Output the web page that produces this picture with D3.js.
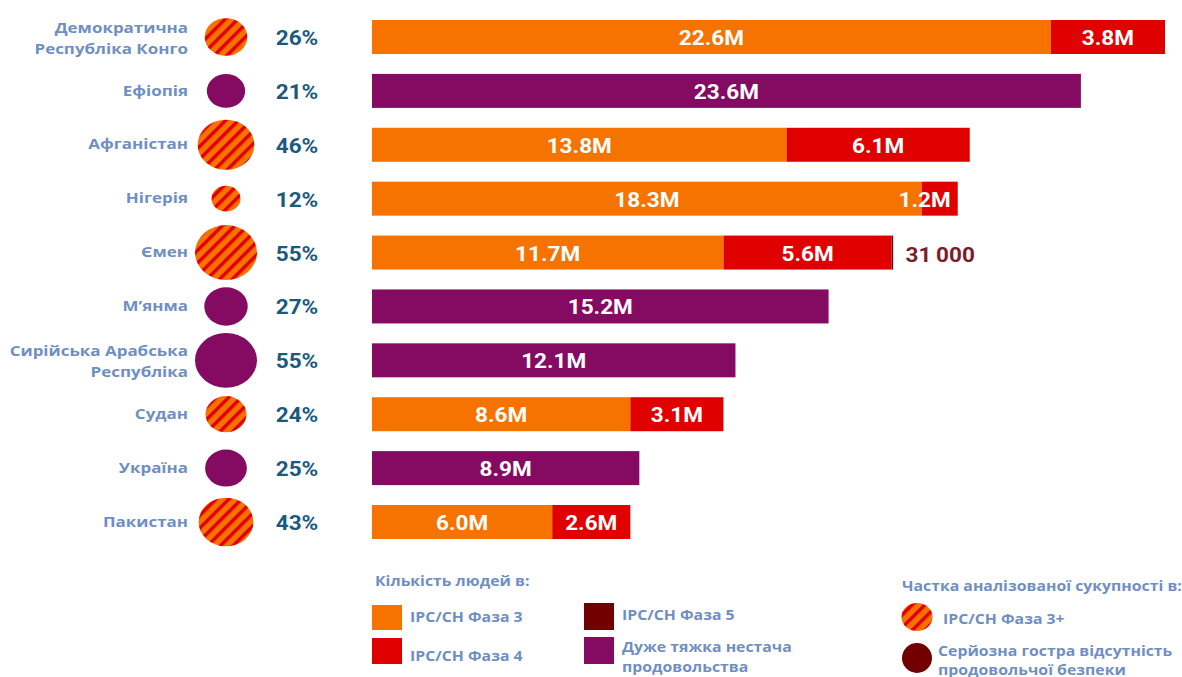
<!DOCTYPE html>
<html>
<head>
<meta charset="utf-8">
<script src="https://cdn.jsdelivr.net/npm/d3@7"></script>
<style>
  body { margin: 0; background: #fff; }
  svg text { font-weight: bold; }
</style>
</head>
<body>
<div id="chart"></div>
<script>
// food crisis chart: bars per country + share bubbles

var width = 1182,
    height = 677;

var countries = ["Демократична\nРеспубліка Конго", "Ефіопія", "Афганістан", "Нігерія", "Ємен",
                 "М\u2019янма", "Сирійська Арабська\nРеспубліка", "Судан", "Україна", "Пакистан"];
var shares = [26, 21, 46, 12, 55, 27, 55, 24, 25, 43];      // % of analysed population
var ipcCountry = [true, false, true, true, true, false, false, true, false, true];
var phase3 = [22.6, 0, 13.8, 18.3, 11.7, 0, 0, 8.6, 0, 6.0];  // millions
var phase4 = [3.8, 0, 6.1, 1.2, 5.6, 0, 0, 3.1, 0, 2.6];
var phase5 = [0, 0, 0, 0, 0.031, 0, 0, 0, 0, 0];
var severe = [0, 23.6, 0, 0, 0, 15.2, 12.1, 0, 8.9, 0];
var phase5Labels = ["", "", "", "", "31\u2009000", "", "", "", "", ""];

var colors = {
  p3: "#f77300",
  p4: "#e00000",
  p5: "#720000",
  severe: "#850a62",
  label: "#6f8fc2",
  pct: "#1c5a7d",
  p5text: "#7b1d2a"
};

var sx = 1.13;   // the source art is a bit stretched sideways

var svg = d3.select("#chart").append("svg")
    .attr("width", width)
    .attr("height", height);

var defs = svg.append("defs");
var pat = defs.append("pattern")
    .attr("id", "hatch")
    .attr("patternUnits", "userSpaceOnUse")
    .attr("width", 9)
    .attr("height", 9)
    .attr("patternTransform", "rotate(45)");
pat.append("rect").attr("width", 9).attr("height", 9).attr("fill", colors.p3);
pat.append("rect").attr("width", 3.5).attr("height", 9).attr("fill", colors.p4);

var x = d3.scaleLinear()
    .domain([0, 26.4])
    .range([372, 1165]);

var y = d3.scalePoint()
    .domain(d3.range(countries.length))
    .range([37, 522]);

var barH = 34;
var r = d3.scaleSqrt().domain([0, 55]).range([0, 31]);

// helper: text with the horizontal stretch
function txt(g, tx, ty, s, size, fill, anchor) {
  return g.append("text")
      .attr("transform", "translate(" + tx + "," + ty + ") scale(" + sx + ",1)")
      .attr("text-anchor", anchor || "start")
      .attr("dominant-baseline", "central")
      .attr("font-size", size)
      .attr("fill", fill)
      .text(s);
}

var rows = svg.append("g");

countries.forEach(function(name, i) {
  var cy = y(i);

  // country name
  var lines = name.split("\n");
  lines.forEach(function(l, j) {
    var off = lines.length == 1 ? -1 : (j == 0 ? -10 : 11);
    txt(rows, 188, cy + off, l, 15, colors.label, "end")
      .attr("font-family", "'Open Sans', sans-serif");
  });

  // bubble
  var rx = r(shares[i]);
  rows.append("ellipse")
      .attr("cx", 226)
      .attr("cy", cy)
      .attr("rx", rx)
      .attr("ry", rx / sx)
      .attr("fill", ipcCountry[i] ? "url(#hatch)" : colors.severe);

  txt(rows, 297, cy + 1, shares[i] + "%", 20, colors.pct, "middle")
    .attr("font-family", "Roboto, sans-serif");

  // stacked bar segments
  var segs = [
    {v: phase3[i], c: colors.p3},
    {v: phase4[i], c: colors.p4},
    {v: phase5[i], c: colors.p5},
    {v: severe[i], c: colors.severe}
  ];
  var acc = 0;
  segs.forEach(function(s) {
    if (!s.v) return;
    var x0 = x(acc), x1 = x(acc + s.v);
    acc += s.v;
    rows.append("rect")
        .attr("x", x0)
        .attr("y", cy - barH / 2)
        .attr("width", Math.max(x1 - x0, 1.5))
        .attr("height", barH)
        .attr("fill", s.c);
    if (s.v < 0.5) return;   // phase 5 sliver has its label outside
    var lab = d3.format(".1f")(s.v) + "M";
    var w = x1 - x0;
    var t;
    if (w < 60) {
      t = txt(rows, x1 - 7, cy + 1, lab, 20, "#fff", "end");
    } else {
      t = txt(rows, (x0 + x1) / 2, cy + 1, lab, 20, "#fff", "middle");
    }
    t.attr("font-family", "Roboto, sans-serif");
  });

  if (phase5Labels[i]) {
    txt(rows, x(acc) + 13, cy + 2, phase5Labels[i], 20, colors.p5text, "start")
      .attr("font-family", "Roboto, sans-serif");
  }
});

// legend: number of people
var leg = svg.append("g").attr("font-family", "'Open Sans', sans-serif");
txt(leg, 375, 580, "Кількість людей в:", 14, colors.label);

var legItems = [
  {c: colors.p3, x: 372, y: 605, h: 25, t: ["IPC/CH Фаза 3"], ty: 616},
  {c: colors.p4, x: 372, y: 638, h: 26, t: ["IPC/CH Фаза 4"], ty: 655},
  {c: colors.p5, x: 584, y: 603, h: 27, t: ["IPC/CH Фаза 5"], ty: 614},
  {c: colors.severe, x: 584, y: 637, h: 27, t: ["Дуже тяжка нестача", "продовольства"], ty: 646}
];
legItems.forEach(function(d) {
  leg.append("rect")
      .attr("x", d.x).attr("y", d.y)
      .attr("width", 30).attr("height", d.h)
      .attr("fill", d.c);
  d.t.forEach(function(s, j) {
    txt(leg, d.x + 38, d.ty + j * 20, s, 14, colors.label);
  });
});

// legend: share of analysed population
txt(leg, 902, 585, "Частка аналізованої сукупності в:", 14, colors.label);
leg.append("ellipse")
    .attr("cx", 917).attr("cy", 617)
    .attr("rx", 15.5).attr("ry", 14)
    .attr("fill", "url(#hatch)");
txt(leg, 943, 618, "IPC/CH Фаза 3+", 14, colors.label);
leg.append("circle")
    .attr("cx", 917).attr("cy", 658)
    .attr("r", 15)
    .attr("fill", colors.p5);
txt(leg, 938, 650, "Серйозна гостра відсутність", 14, colors.label);
txt(leg, 938, 669, "продовольчої безпеки", 14, colors.label);
</script>
</body>
</html>
